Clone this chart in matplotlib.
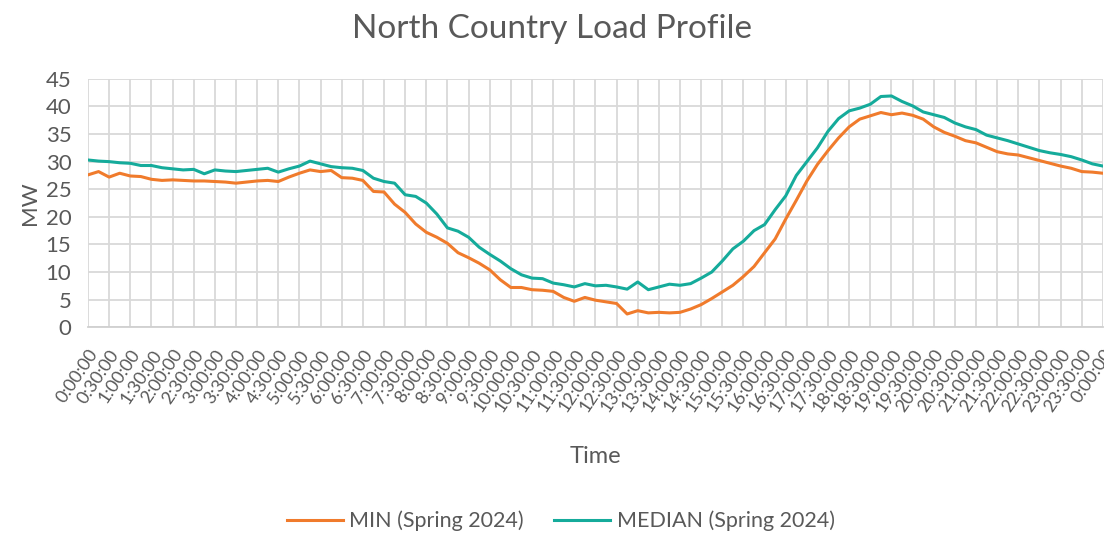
import matplotlib
matplotlib.use('Agg')
from matplotlib import pyplot as plt

# half-hour labels, data every 15 minutes (hours from midnight)
hours = [i * 0.25 for i in range(97)]
tick_hours = [i * 0.5 for i in range(49)]
tick_labels = ['%d:%02d:00' % ((int(h) % 24), int(round((h % 1) * 60))) for h in tick_hours]

median_mw = [30.3, 30.1, 30.0, 29.8, 29.7, 29.3, 29.3, 28.9, 28.7, 28.5, 28.6, 27.8,
             28.5, 28.3, 28.2, 28.4, 28.6, 28.8, 28.1, 28.7, 29.2, 30.1, 29.6, 29.1,
             28.9, 28.8, 28.4, 27.0, 26.4, 26.1, 24.0, 23.7, 22.5, 20.5, 18.0, 17.4,
             16.3, 14.5, 13.2, 12.0, 10.6, 9.5, 8.9, 8.8, 8.0, 7.7, 7.3, 7.9,
             7.5, 7.6, 7.3, 6.9, 8.2, 6.8, 7.3, 7.8, 7.6, 7.9, 8.9, 10.0,
             12.0, 14.2, 15.6, 17.5, 18.6, 21.3, 23.8, 27.5, 30.0, 32.5, 35.5, 37.8,
             39.2, 39.7, 40.4, 41.8, 41.9, 40.9, 40.1, 39.0, 38.5, 38.0, 37.0, 36.3,
             35.8, 34.8, 34.3, 33.8, 33.2, 32.6, 32.0, 31.6, 31.3, 30.9, 30.3, 29.6,
             29.2]

min_mw = [27.6, 28.2, 27.2, 27.9, 27.4, 27.3, 26.8, 26.6, 26.7, 26.6, 26.5, 26.5,
          26.4, 26.3, 26.1, 26.3, 26.5, 26.6, 26.4, 27.2, 27.9, 28.5, 28.2, 28.4,
          27.1, 27.0, 26.6, 24.6, 24.5, 22.3, 20.8, 18.7, 17.2, 16.3, 15.2, 13.5,
          12.6, 11.6, 10.4, 8.6, 7.2, 7.2, 6.8, 6.7, 6.5, 5.4, 4.7, 5.4,
          4.9, 4.6, 4.3, 2.4, 3.0, 2.6, 2.7, 2.6, 2.7, 3.3, 4.1, 5.2,
          6.4, 7.6, 9.2, 11.0, 13.5, 16.0, 19.6, 23.0, 26.5, 29.5, 32.0, 34.3,
          36.3, 37.7, 38.3, 38.9, 38.5, 38.8, 38.4, 37.7, 36.3, 35.3, 34.6, 33.8,
          33.4, 32.6, 31.8, 31.4, 31.2, 30.7, 30.2, 29.7, 29.2, 28.8, 28.2, 28.1,
          27.9]

grey = '#595959'
plt.rcParams['font.family'] = ['Lato', 'DejaVu Sans']

fig = plt.figure(figsize=(11.04, 5.40), dpi=100)
ax = fig.add_axes([0.0797, 0.394, 0.9193, 0.46])

ax.plot(hours, min_mw, color='#F07B2C', lw=2.2, label='MIN (Spring 2024)')
ax.plot(hours, median_mw, color='#15AB9B', lw=2.2, label='MEDIAN (Spring 2024)')

ax.set_xlim(0, 24)
ax.set_ylim(0, 45)
ax.set_yticks(range(0, 46, 5))
ax.set_xticks(tick_hours)
ax.set_xticklabels(tick_labels, rotation=56, ha='right', rotation_mode='anchor')
ax.tick_params(axis='both', length=0, colors=grey)
ax.tick_params(axis='y', labelsize=16, pad=12)
ax.tick_params(axis='x', labelsize=13, pad=14)
ax.grid(True, color='#D9D9D9', lw=1.3)
ax.set_axisbelow(True)
for s in ['top', 'right', 'left']:
    ax.spines[s].set_visible(False)
ax.spines['bottom'].set_color('#D0D0D0')
ax.spines['bottom'].set_linewidth(1.3)

ax.set_ylabel('MW', fontsize=16, color=grey, labelpad=4)
fig.text(0.539, 0.154, 'Time', fontsize=17, color=grey, ha='center', va='center')
fig.suptitle('North Country Load Profile', fontsize=24, color=grey, y=0.975)

fig.legend(loc='lower center', bbox_to_anchor=(0.508, -0.02), ncol=2, frameon=False,
           fontsize=15.5, handlelength=2.6, handletextpad=0.3, columnspacing=1.4,
           labelcolor=grey)

fig.savefig('out.png', dpi=100)
